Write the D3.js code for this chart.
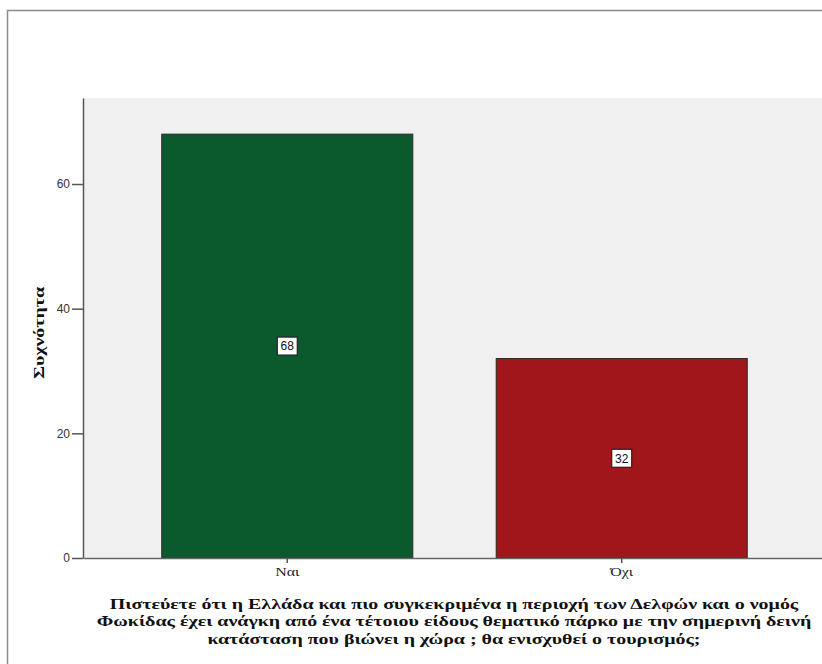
<!DOCTYPE html>
<html>
<head>
<meta charset="utf-8">
<script src="https://cdn.jsdelivr.net/npm/d3@7"></script>
<style>
  html, body { margin: 0; padding: 0; background: #fff; }
  svg { display: block; }
</style>
</head>
<body>
<svg id="chart" width="822" height="664"></svg>
<script>
// Frequencies of answers
const categories = ["Ναι", "Όχι"];
const counts = [68, 32];
const barColors = ["#0b5a2e", "#a1161b"];
const yTicks = [0, 20, 40, 60];
const yTitle = "Συχνότητα";
const xTitleLines = [
  "Πιστεύετε ότι η Ελλάδα και πιο συγκεκριμένα η περιοχή των Δελφών και ο νομός",
  "Φωκίδας έχει ανάγκη από ένα τέτοιου είδους θεματικό πάρκο με την σημερινή δεινή",
  "κατάσταση που βιώνει η χώρα ; θα ενισχυθεί ο τουρισμός;"
];

const svg = d3.select("#chart");
const serif = "Liberation Serif, Times New Roman, serif";
const sans = "Liberation Sans, Arial, sans-serif";
const stretch = 1.33; // wide serif lettering

// outer frame
svg.append("rect")
  .attr("x", 7.5).attr("y", 10.5)
  .attr("width", 830).attr("height", 680)
  .attr("fill", "#fff")
  .attr("stroke", "#8c8c8c").attr("stroke-width", 1.5);

const plot = { left: 83, right: 826, top: 98, bottom: 558 };

const x = d3.scaleBand()
  .domain(categories)
  .range([plot.left, plot.right])
  .paddingInner(0.2494)
  .paddingOuter(0.2355);

const y = d3.scaleLinear()
  .domain([0, 73.8])
  .range([plot.bottom, plot.top]);

// plot background
svg.append("rect")
  .attr("x", plot.left).attr("y", plot.top)
  .attr("width", plot.right - plot.left).attr("height", plot.bottom - plot.top)
  .attr("fill", "#f0f0f0");

// bars
svg.selectAll("rect.bar")
  .data(counts)
  .join("rect")
  .attr("class", "bar")
  .attr("x", (d, i) => x(categories[i]))
  .attr("y", d => y(d))
  .attr("width", x.bandwidth())
  .attr("height", d => y(0) - y(d))
  .attr("fill", (d, i) => barColors[i])
  .attr("stroke", "#2a2a2a")
  .attr("stroke-width", 1);

// value labels
const lab = svg.selectAll("g.vlabel")
  .data(counts)
  .join("g")
  .attr("class", "vlabel")
  .attr("transform", (d, i) =>
    `translate(${x(categories[i]) + x.bandwidth() / 2},${(y(d) + y(0)) / 2})`);
lab.append("rect")
  .attr("x", -10).attr("y", -9)
  .attr("width", 20).attr("height", 18)
  .attr("fill", "#fff")
  .attr("stroke", "#222").attr("stroke-width", 1.2);
lab.append("text")
  .attr("text-anchor", "middle")
  .attr("dy", "0.36em")
  .attr("font-family", sans)
  .attr("font-size", 12)
  .attr("fill", "#111")
  .text(d => d);

// y axis
const yAxis = d3.axisLeft(y).tickValues(yTicks).tickSize(11).tickPadding(2).tickSizeOuter(0);
const gy = svg.append("g")
  .attr("transform", `translate(${plot.left},0)`)
  .call(yAxis);
gy.select(".domain").attr("stroke", "#555").attr("stroke-width", 1.5);
gy.selectAll(".tick line").attr("stroke", "#555").attr("stroke-width", 1.5);
gy.selectAll(".tick text")
  .attr("font-family", sans)
  .attr("font-size", 12)
  .attr("fill", "#333");

// x axis
const xAxis = d3.axisBottom(x).tickSize(5).tickPadding(4).tickSizeOuter(0);
const gx = svg.append("g")
  .attr("transform", `translate(0,${plot.bottom})`)
  .call(xAxis);
gx.select(".domain").attr("stroke", "#666").attr("stroke-width", 1.5);
gx.selectAll(".tick line").attr("stroke", "#555").attr("stroke-width", 1.5);
gx.selectAll(".tick text")
  .attr("font-family", serif)
  .attr("font-size", 12)
  .attr("fill", "#222")
  .attr("transform", "scale(1.33,1)")
  .attr("x", 0);

// y title
svg.append("text")
  .attr("transform", `translate(44,333) rotate(-90) scale(${stretch},1)`)
  .attr("text-anchor", "middle")
  .attr("font-family", serif)
  .attr("font-weight", "bold")
  .attr("font-size", 15)
  .attr("fill", "#111")
  .text(yTitle);

// x title
svg.append("text")
  .attr("transform", `translate(454,0) scale(${stretch},1)`)
  .attr("text-anchor", "middle")
  .attr("font-family", serif)
  .attr("font-weight", "bold")
  .attr("font-size", 15)
  .attr("fill", "#111")
  .selectAll("tspan")
  .data(xTitleLines)
  .join("tspan")
  .attr("x", 0)
  .attr("y", (d, i) => 609 + i * 17.5)
  .text(d => d);
</script>
</body>
</html>
